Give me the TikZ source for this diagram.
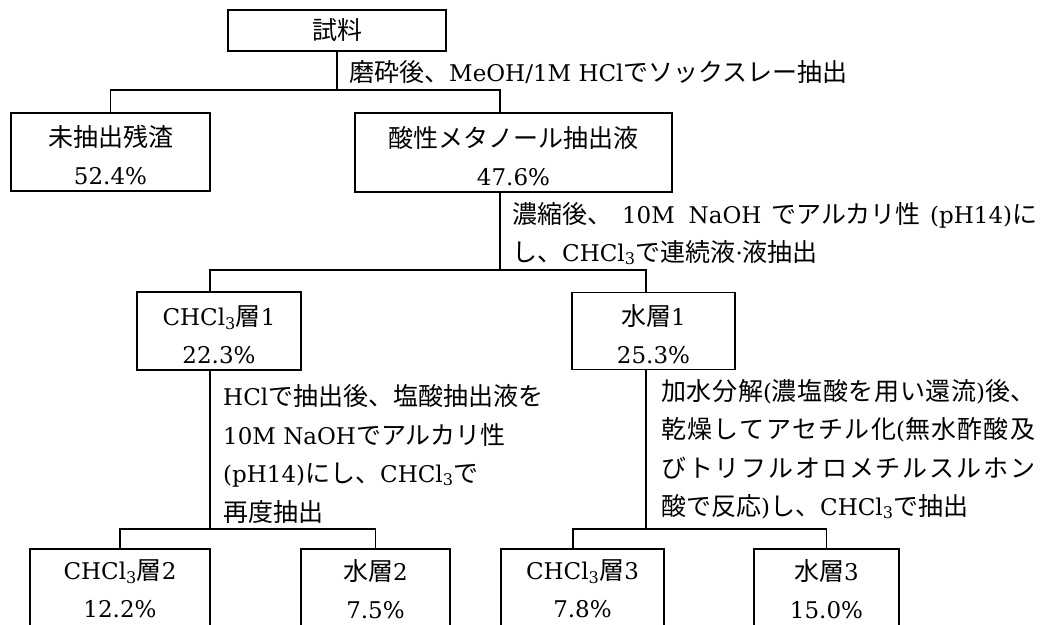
\documentclass[tikz,border=0pt]{standalone}
\usepackage{fontspec}
\setmainfont[Scale=0.92]{DejaVu Serif}
\newfontfamily\jpfont{Noto Sans CJK JP}
\newcommand{\J}[1]{{\jpfont #1}}
\newcommand{\chcl}{CHCl\textsubscript{3}}
\newcommand{\up}{\rule{0pt}{28pt}}
\begin{document}
\begin{tikzpicture}[x=1pt,y=-1pt,
  every node/.style={font=\fontsize{25}{38}\selectfont, inner sep=0pt},
  box/.style={draw, line width=1.5pt, align=center},
  conn/.style={line width=1.3pt},
  lbl/.style={anchor=base west}]
\useasboundingbox (0,0) rectangle (1047,624);
\clip (0,0) rectangle (1047,624);

% boxes
\node[box, minimum width=218pt, minimum height=41pt] (S) at (337,30.5) {\J{試料}};
\node[box, minimum width=199pt, minimum height=78pt] (A) at (110.5,152) {\up\J{未抽出残渣}\\52.4\%};
\node[box, minimum width=317pt, minimum height=79pt] (B) at (513.5,152.5) {\up\J{酸性メタノール抽出液}\\47.6\%};
\node[box, minimum width=164pt, minimum height=78pt] (C1) at (219,331) {\up\chcl\J{層}1\\22.3\%};
\node[box, minimum width=163pt, minimum height=77pt] (W1) at (653.5,331) {\up\J{水層}1\\25.3\%};
\node[box, minimum width=180pt, minimum height=80pt] (C2) at (120,589) {\chcl\J{層}2\\12.2\%};
\node[box, minimum width=149pt, minimum height=80pt] (W2) at (375.5,589) {\J{水層}2\\7.5\%};
\node[box, minimum width=163pt, minimum height=80pt] (C3) at (582.5,589) {\chcl\J{層}3\\7.8\%};
\node[box, minimum width=145pt, minimum height=80pt] (W3) at (826.5,589) {\J{水層}3\\15.0\%};

% junctions
\coordinate (j1) at (337,90);
\coordinate (j2) at (500,270);
\coordinate (j3) at (210,529);
\coordinate (j4) at (646,529);
\coordinate (k3) at (573,529);

% connectors
\draw[conn] (S.south) -- (j1);
\draw[conn] (A.north) |- (j1) -| (B.north -| j2);
\draw[conn] (B.south -| j2) -- (j2);
\draw[conn] (C1.north -| j3) |- (j2) -| (W1.north -| j4);
\draw[conn] (C1.south -| j3) -- (j3);
\draw[conn] (C2.north) |- (j3) -| (W2.north);
\draw[conn] (W1.south -| j4) -- (j4);
\draw[conn] (C3.north -| k3) -- (k3) -| (W3.north);

% labels
\node[lbl] (t1) at (349,81) {\J{磨砕後、}MeOH/1M HCl\J{でソックスレー抽出}};
\node[lbl] (t2) at (512,223) {\makebox[525pt][s]{\J{濃縮後、}\hspace{0pt plus 1fil}10M\hspace{4pt plus 1fil}NaOH\hspace{0pt plus 1fil}\J{でアルカリ性}\hspace{0pt plus 1fil}(pH14)\J{に}}};
\node[lbl] (t3) at (512,261) {\J{し、}\chcl\J{で連続液}·\J{液抽出}};

\node[lbl] (l1) at (223,405) {HCl\J{で抽出後、塩酸抽出液を}};
\node[lbl] (l2) at (223,444) {10M NaOH\J{でアルカリ性}};
\node[lbl] (l3) at (223,482) {(pH14)\J{にし、}\chcl\J{で}};
\node[lbl] (l4) at (223,521) {\J{再度抽出}};

\node[lbl] (r1) at (661,400) {\makebox[374pt][s]{\J{加\hfil 水\hfil 分\hfil 解}(\J{濃\hfil 塩\hfil 酸\hfil を\hfil 用\hfil い\hfil 還\hfil 流})\J{後、}}};
\node[lbl] (r2) at (661,438) {\makebox[374pt][s]{\J{乾\hfil 燥\hfil し\hfil て\hfil ア\hfil セ\hfil チ\hfil ル\hfil 化}(\J{無\hfil 水\hfil 酢\hfil 酸\hfil 及}}};
\node[lbl] (r3) at (661,477) {\makebox[374pt][s]{\J{び\hfil ト\hfil リ\hfil フ\hfil ル\hfil オ\hfil ロ\hfil メ\hfil チ\hfil ル\hfil ス\hfil ル\hfil ホ\hfil ン}}};
\node[lbl] (r4) at (661,515) {\J{酸で反応})\J{し、}\chcl\J{で抽出}};
\end{tikzpicture}
\end{document}
